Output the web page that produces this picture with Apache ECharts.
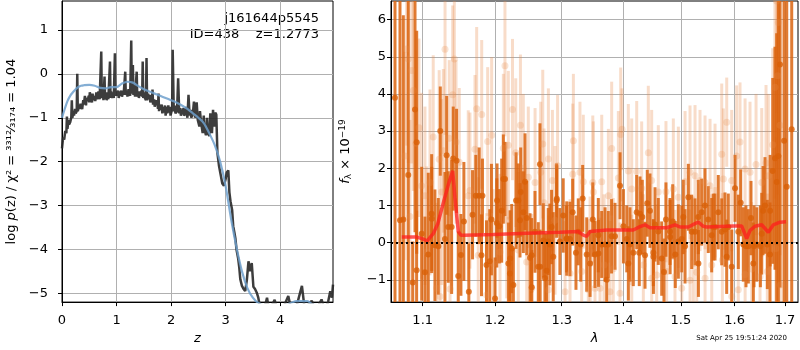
<!DOCTYPE html>
<html>
<head>
<meta charset="utf-8">
<script src="https://cdn.jsdelivr.net/npm/echarts@6/dist/echarts.min.js"></script>
<style>
html, body { margin: 0; padding: 0; background: #fff; }
#chart { width: 800px; height: 350px; }
</style>
</head>
<body>
<div id="chart"></div>
<script>
// left panel: log p(z)
var pzLine = [[0,-1.7],[0.02,-1.45],[0.04,-1.5],[0.06,-1.3],[0.08,-1.35],[0.09,-0.97],[0.1,-1.25],[0.12,-1.05],[0.13,-1.15],[0.15,-1.1],[0.17,-1.0],[0.18,-0.6],[0.19,-1.0],[0.21,-0.85],[0.22,-0.95],[0.24,-0.8],[0.25,-0.9],[0.27,-0.85],[0.28,0.0],[0.29,-0.85],[0.31,-0.72],[0.32,-0.8],[0.34,-0.68],[0.35,-0.75],[0.37,-0.8],[0.39,-0.6],[0.4,-0.7],[0.42,-0.5],[0.44,-0.72],[0.45,-0.55],[0.47,-0.62],[0.49,-0.5],[0.5,-0.65],[0.51,-0.42],[0.53,-0.58],[0.55,-0.65],[0.56,-0.45],[0.58,-0.6],[0.6,-0.5],[0.61,-0.62],[0.63,-0.42],[0.64,-0.58],[0.66,-0.62],[0.67,-0.4],[0.69,-0.58],[0.71,-0.6],[0.72,0.51],[0.73,-0.55],[0.75,-0.42],[0.76,-0.6],[0.78,-0.06],[0.79,-0.58],[0.81,-0.42],[0.82,-0.6],[0.84,-0.45],[0.85,-0.58],[0.87,-0.6],[0.88,0.28],[0.89,-0.55],[0.9,-0.4],[0.92,-0.55],[0.93,-0.42],[0.95,-0.55],[0.97,0.47],[0.98,-0.5],[1.0,-0.4],[1.01,-0.5],[1.03,-0.38],[1.04,-0.55],[1.06,-0.4],[1.07,-0.5],[1.09,-0.38],[1.1,-0.52],[1.12,-0.4],[1.13,-0.48],[1.15,-0.52],[1.16,0.05],[1.17,-0.48],[1.19,-0.38],[1.2,-0.52],[1.22,-0.35],[1.23,-0.45],[1.25,-0.5],[1.27,0.76],[1.28,-0.45],[1.3,0.2],[1.31,-0.48],[1.33,-0.38],[1.34,-0.52],[1.36,-0.48],[1.37,0.05],[1.38,-0.52],[1.4,-0.4],[1.41,-0.55],[1.43,-0.4],[1.44,-0.5],[1.46,-0.38],[1.47,-0.52],[1.48,0.28],[1.49,-0.55],[1.51,-0.42],[1.52,-0.55],[1.54,-0.6],[1.55,0.36],[1.56,-0.6],[1.58,-0.45],[1.59,-0.58],[1.61,-0.48],[1.62,-0.65],[1.64,-0.52],[1.65,-0.62],[1.66,-0.36],[1.67,-0.7],[1.69,-0.58],[1.7,-0.75],[1.72,-0.6],[1.73,-0.72],[1.75,-0.65],[1.76,-0.8],[1.77,-0.45],[1.78,-0.85],[1.8,-0.7],[1.81,-0.82],[1.83,-0.7],[1.84,-0.9],[1.86,-0.75],[1.87,-0.88],[1.89,-0.72],[1.9,-0.95],[1.92,-0.75],[1.93,-0.9],[1.95,-0.72],[1.96,-0.88],[1.98,-0.75],[1.99,-0.95],[2.02,-0.8],[2.03,0.55],[2.05,-0.85],[2.07,-0.72],[2.08,-0.9],[2.11,-0.85],[2.13,-0.1],[2.15,-0.9],[2.17,-0.78],[2.18,-0.95],[2.21,-0.85],[2.23,-0.78],[2.24,-0.95],[2.27,-0.9],[2.28,-0.75],[2.3,-1.0],[2.32,-0.48],[2.34,-0.95],[2.36,-0.82],[2.37,-1.0],[2.4,-0.9],[2.42,-0.63],[2.44,-1.0],[2.47,-0.65],[2.49,-1.05],[2.52,-1.2],[2.53,-0.85],[2.55,-1.1],[2.58,-1.35],[2.6,-0.95],[2.61,-1.25],[2.64,-1.4],[2.66,-1.0],[2.67,-1.3],[2.7,-1.42],[2.72,-0.9],[2.75,-1.35],[2.77,-0.82],[2.79,-1.2],[2.81,-0.88],[2.83,-0.93],[2.85,-1.8],[2.88,-2.1],[2.91,-2.3],[2.94,-2.5],[2.97,-2.55],[3.0,-2.4],[3.02,-2.25],[3.05,-2.2],[3.07,-2.7],[3.09,-2.9],[3.12,-3.1],[3.14,-3.47],[3.16,-3.6],[3.18,-3.75],[3.2,-4.0],[3.23,-4.2],[3.25,-4.4],[3.27,-4.68],[3.3,-4.83],[3.33,-4.9],[3.36,-4.95],[3.39,-4.7],[3.42,-4.27],[3.45,-4.5],[3.48,-4.31],[3.51,-4.85],[3.54,-4.9],[3.57,-4.98],[3.6,-5.1],[3.63,-5.3],[3.7,-5.4],[3.76,-5.1],[3.8,-5.4],[3.9,-5.15],[3.95,-5.4],[4.05,-5.35],[4.15,-5.06],[4.2,-5.35],[4.3,-5.3],[4.4,-4.83],[4.45,-5.35],[4.58,-5.17],[4.65,-5.4],[4.76,-5.14],[4.82,-5.4],[4.88,-5.2],[4.92,-4.95],[4.95,-5.1],[4.97,-4.8]];
var pzFit = [[0,-1.0],[0.05,-0.8],[0.1,-0.62],[0.15,-0.5],[0.2,-0.42],[0.25,-0.35],[0.3,-0.3],[0.35,-0.27],[0.4,-0.26],[0.5,-0.25],[0.6,-0.27],[0.7,-0.32],[0.8,-0.33],[0.9,-0.3],[1.0,-0.3],[1.1,-0.22],[1.2,-0.18],[1.3,-0.2],[1.4,-0.28],[1.5,-0.35],[1.6,-0.4],[1.7,-0.45],[1.8,-0.5],[1.9,-0.55],[2.0,-0.6],[2.1,-0.65],[2.2,-0.72],[2.3,-0.8],[2.4,-0.9],[2.5,-1.0],[2.6,-1.12],[2.7,-1.35],[2.8,-1.62],[2.9,-2.0],[3.0,-2.55],[3.1,-3.3],[3.2,-3.95],[3.3,-4.5],[3.4,-4.88],[3.5,-5.1],[3.6,-5.22],[3.8,-5.3],[4.0,-5.3],[4.2,-5.22],[4.3,-5.18],[4.5,-5.18],[4.6,-5.25],[4.97,-5.3]];
var zTicks = [0, 1, 2, 3, 4];
var logpTicks = [-5, -4, -3, -2, -1, 0, 1];

// right panel: spectrum, [lambda, flux, err]
var darkPts = [[1.064,3.9,6],[1.0704,0.6,6],[1.0747,0.62,5.5],[1.0811,1.82,5],[1.0869,-1.07,1.1],[1.0899,3.58,3.3],[1.0921,2.7,3],[1.092,-0.74,1.6],[1.0987,0.24,1.8],[1.103,-0.8,1.5],[1.1074,-0.32,2.2],[1.112,0.64,1.4],[1.1119,0.78,1.6],[1.1163,-0.07,1.5],[1.1208,-0.1,1.3],[1.1235,3.0,1.2],[1.1298,0.1,1.8],[1.1321,2.35,1.6],[1.1343,0.42,1.5],[1.1389,0.42,1.8],[1.1411,2.26,1.4],[1.1457,2.2,1.4],[1.148,-0.9,1.2],[1.1517,-0.33,1.1],[1.1558,0.57,1.6],[1.1627,-1.32,1.3],[1.1679,0.75,1.2],[1.1725,1.26,1.1],[1.1772,1.26,1.3],[1.1805,-0.34,1.1],[1.1819,1.26,1.0],[1.1876,-0.6,1.2],[1.1923,-0.5,1.4],[1.1947,0.62,1.5],
  [1.1999,-1.5,1.1],[1.2024,0.53,1.2],[1.2028,1.13,1.0],[1.2061,0.44,1.0],[1.2095,0.86,1.4],[1.2119,1.71,1.2],[1.2143,1.71,1.0],[1.2193,-0.56,1.1],[1.2216,-0.83,1.0],[1.2218,-0.43,1.3],[1.2242,-0.16,1.2],[1.2266,-1.14,1.0],[1.2306,1.13,1.3],[1.234,1.13,1.0],[1.2364,0.6,1.0],[1.2375,1.36,1.2],[1.2414,0.82,1.1],[1.2439,1.64,1.3],[1.2465,0.66,1.0],[1.2514,-0.41,1.2],[1.2539,-0.34,1.0],[1.254,-1.2,1.0],[1.2589,0.29,1.1],[1.2639,-0.65,1.2],[1.2664,2.11,1.1],[1.2667,-0.65,1.0],[1.2715,0.06,1.0],[1.274,-0.96,1.2],[1.2766,-0.76,1.0],[1.2791,0.03,0.9],[1.2816,-0.05,1.1],[1.2842,0.42,1.0],[1.2868,-0.38,1.2],[1.292,1.13,1.0],[1.2923,1.18,0.9],[1.2971,0.03,0.9],[1.3023,0.73,1.0],[1.3076,0.1,0.9],[1.3078,0.11,1.0],[1.3129,0.1,1.0],[1.3172,0.82,0.9],[1.3224,-0.27,1.0],[1.3261,0.29,0.9],[1.33,-0.05,1.0],[1.3331,1.19,0.9],[1.3396,-0.32,1.0],[1.345,-0.56,0.9],[1.3494,0.62,1.0],
  [1.353,-0.32,0.9],[1.3584,0.2,1.0],[1.3586,-0.29,0.9],[1.3639,-0.05,0.9],[1.3694,-0.05,1.0],[1.3722,-1.0,0.9],[1.3748,-0.05,0.9],[1.3802,0.17,1.0],[1.3859,0.17,0.9],[1.3943,1.53,0.9],[1.4,0.44,1.0],[1.4056,0.1,0.9],[1.4083,-0.56,1.0],[1.4111,-0.05,1.0],[1.4167,-0.27,0.9],[1.4225,0.82,1.0],[1.4269,-0.27,0.9],[1.4282,0.78,1.0],[1.4321,0.69,1.0],[1.4368,-0.34,0.9],[1.4407,1.06,0.9],[1.4454,0.86,1.0],[1.4512,-0.27,0.9],[1.4514,-0.38,1.0],[1.4542,0.49,1.0],[1.4599,0.3,0.9],[1.4659,-0.43,1.0],[1.4699,-0.79,0.9],[1.4734,0.62,1.0],[1.4806,0.3,0.9],[1.4808,0.15,1.0],[1.4854,0.57,1.0],[1.49,-0.32,0.9],[1.4955,0.03,1.0],[1.5016,0.1,0.9],[1.5044,0.69,1.0],[1.5076,-0.1,1.0],[1.5136,1.22,0.9],[1.5197,0.29,1.0],
  [1.5257,0.29,0.9],[1.5318,0.69,1.0],[1.532,-0.56,0.9],[1.538,0.82,0.9],[1.5441,1.0,1.0],[1.5502,0.62,0.9],[1.5566,0.2,1.0],[1.5596,0.42,0.9],[1.5628,0.42,0.9],[1.569,0.82,1.0],[1.5755,0.29,0.9],[1.5817,0.35,1.0],[1.5849,-0.38,1.0],[1.588,0.42,0.9],[1.5945,-0.65,1.0],[1.6009,1.46,0.9],[1.6072,0.29,1.0],[1.6118,1.07,0.9],[1.6169,-0.05,1.0],[1.6221,-0.1,1.1],[1.6267,-0.1,1.0],[1.6319,0.66,1.0],[1.6365,-0.56,1.1],[1.6378,-0.1,1.1],[1.6432,-0.05,1.0],[1.6504,-0.1,1.1],[1.6531,0.24,1.1],[1.6557,0.86,1.2],[1.6596,1.0,1.3],[1.6642,-0.05,1.2],[1.6696,-0.32,1.4],[1.6698,0.86,1.5],[1.6751,1.93,2.5],[1.6796,2.27,3],[1.683,1.63,4],[1.6864,2.33,5],[1.6898,4.79,6],[1.698,2.74,7],[1.7035,1.5,8],[1.7137,3.05,8]];
var lightPts = [[1.0768,2.33,2.8],[1.079,5.21,2.6],[1.0811,4.94,2.8],[1.0833,0.7,2.6],[1.0855,4.63,2.5],[1.0877,4.09,2.7],[1.0912,2.67,2.5],[1.0951,3.09,2.4],[1.0986,1.53,2.5],[1.103,1.26,2.4],[1.1053,-0.25,2.3],[1.1097,1.62,2.5],[1.114,2.84,2.2],[1.1186,-1.23,2.3],[1.122,2.24,2.4],[1.1231,-1.45,2.2],[1.1254,1.36,2.5],[1.1276,2.47,2.2],[1.1299,5.2,2.3],[1.1357,2.81,2.1],[1.1367,-1.25,2.2],[1.1404,3.98,2.4],[1.1426,4.94,2.3],[1.1449,2.71,2.2],[1.1494,2.16,2.0],[1.1619,1.26,2.3],[1.1643,1.4,2.1],[1.1713,2.51,2.0],[1.1737,3.6,2.2],[1.1759,-0.34,2.1],[1.1808,3.45,2.0],[1.1879,-1.41,2.2],[1.1893,2.72,2.0],[1.195,2.89,2.1],[1.1973,-0.56,2.0],
  [1.2071,-0.25,2.1],[1.2119,2.54,2.0],[1.2143,4.76,1.9],[1.2168,0.6,2.1],[1.2192,2.62,2.0],[1.2253,3.58,1.9],[1.2301,2.42,2.0],[1.2339,-0.2,2.1],[1.2371,3.16,1.9],[1.2413,2.0,2.0],[1.2464,-0.52,2.1],[1.2488,1.76,1.9],[1.254,-1.23,2.0],[1.259,1.62,2.0],[1.2676,1.89,1.9],[1.2707,2.65,2.0],[1.2727,1.07,2.0],[1.2793,2.25,1.9],[1.2795,-1.27,2.0],[1.2855,1.67,1.9],[1.2896,0.6,2.0],[1.2935,2.07,1.9],[1.3052,-1.32,1.9],[1.313,-0.83,2.0],[1.3173,1.84,1.9],[1.3183,2.74,1.8],[1.3288,1.89,1.9],[1.3315,-0.78,1.9],[1.3341,1.64,1.8],[1.3422,-1.27,1.9],[1.345,-0.56,1.8],[1.3494,1.62,1.8],
  [1.3503,1.36,1.9],[1.353,-1.23,1.8],[1.3612,-1.23,1.9],[1.364,1.64,1.8],[1.3678,-0.6,1.9],[1.3749,1.26,1.8],[1.3776,-1.32,1.9],[1.3804,2.53,1.8],[1.3831,-0.7,1.9],[1.3915,1.74,1.8],[1.3943,-1.36,1.9],[1.3954,2.91,1.8],[1.3977,3.05,1.1],[1.4083,1.93,1.8],[1.414,1.44,1.9],[1.4141,-1.05,1.8],[1.4225,1.91,1.9],[1.431,1.46,1.8],[1.4339,-0.6,1.9],[1.4425,2.42,1.8],[1.4483,1.67,1.9],[1.4484,-0.96,1.8],[1.4571,-0.87,1.9],[1.4599,1.36,1.8],[1.4734,1.37,1.9],[1.4746,-0.78,1.8],[1.4865,1.44,1.9],[1.4895,-0.92,1.8],[1.4955,1.22,1.9],[1.5016,-1.23,1.8],[1.5076,1.64,1.9],[1.5166,1.89,1.8],[1.5167,-1.01,1.9],
  [1.5227,-0.56,1.8],[1.5258,1.8,1.9],[1.5289,-0.8,1.8],[1.5349,1.67,1.9],[1.5442,1.62,1.8],[1.5443,-0.96,1.9],[1.5535,1.53,1.8],[1.5567,-0.6,1.9],[1.5629,1.4,1.8],[1.5755,2.38,1.9],[1.5767,-0.47,1.8],[1.5786,1.71,1.9],[1.585,3.24,1.2],[1.5945,1.67,1.9],[1.5946,-1.45,1.8],[1.604,2.33,1.9],[1.6072,-1.27,1.8],[1.6105,2.71,1.6],[1.6203,1.98,1.9],[1.6204,-0.86,1.8],[1.63,1.89,1.9],[1.6333,-0.71,1.8],[1.6418,2.1,1.9],[1.6497,-0.92,1.9],[1.6531,1.62,2.0],[1.6616,2.14,2.1],[1.6642,-0.78,2.1],[1.6662,1.8,2.2],[1.6751,2.63,2.6],[1.6796,4.18,3],[1.6814,-0.16,3],[1.683,6.5,3],[1.685,4.49,3.2],[1.6862,5.92,3.5],[1.6898,3.16,3.5],[1.6904,-1.14,3.5]];
var modelLine = [[1.0727,0.15],[1.092,0.15],[1.1,0.1],[1.106,0.05],[1.114,0.24],[1.12,0.5],[1.128,1.1],[1.135,1.6],[1.1404,1.93],[1.1435,1.2],[1.148,0.3],[1.1518,0.2],[1.156,0.2],[1.1973,0.22],[1.2464,0.25],[1.2973,0.28],[1.3261,0.3],[1.3341,0.2],[1.3396,0.17],[1.345,0.3],[1.3722,0.34],[1.4167,0.34],[1.4282,0.43],[1.4368,0.48],[1.4454,0.4],[1.4746,0.4],[1.4895,0.48],[1.4985,0.42],[1.5136,0.42],[1.5257,0.51],[1.5318,0.55],[1.5411,0.44],[1.5473,0.42],[1.5977,0.45],[1.6137,0.45],[1.6235,0.11],[1.63,0.33],[1.6398,0.44],[1.653,0.48],[1.6662,0.28],[1.6763,0.48],[1.6898,0.55],[1.7021,0.56]];
var lamTicks = [1.1, 1.2, 1.3, 1.4, 1.5, 1.6, 1.7];
var fluxTicks = [-1, 0, 1, 2, 3, 4, 5, 6];

var FONT = 'DejaVu Sans';
var chart = echarts.init(document.getElementById('chart'));

// wavelength axis is logarithmic: feed ln(lambda) to a value axis
function toLn(p) { return [Math.log(p[0])].concat(p.slice(1)); }
function lnTicks(t) { return t.map(Math.log); }
function minus(v) { return String(v).replace('-', '\u2212'); }

function errBars(color, width) {
  return function (params, api) {
    var lo = api.coord([api.value(0), api.value(1) - api.value(2)]);
    var hi = api.coord([api.value(0), api.value(1) + api.value(2)]);
    return {
      type: 'line',
      shape: { x1: lo[0], y1: lo[1], x2: hi[0], y2: hi[1] },
      style: { stroke: color, lineWidth: width }
    };
  };
}

function axis(gridIndex, min, max, ticks, fmt, margin) {
  return {
    type: 'value', gridIndex: gridIndex, min: min, max: max,
    axisLine: { show: true, onZero: false, lineStyle: { color: '#000', width: 1 } },
    axisTick: { show: true, length: 4, customValues: ticks, lineStyle: { color: '#000' } },
    axisLabel: { customValues: ticks, formatter: fmt, color: '#000', fontSize: 13, fontFamily: FONT, margin: margin },
    splitLine: { show: true, lineStyle: { color: '#b0b0b0', width: 1 } },
    nameTextStyle: { color: '#000', fontSize: 13, fontFamily: FONT }
  };
}

var xz = axis(0, 0, 4.97, zTicks, minus, 12);
xz.name = 'z'; xz.nameLocation = 'middle'; xz.nameGap = 29;
xz.nameTextStyle.fontStyle = 'italic';
var ylogp = axis(0, -5.2, 1.66, logpTicks, minus, 14);
ylogp.name = 'log {i|p}(z) / χ² = ³³¹²⁄₃₁₇₄ = 1.04';
ylogp.nameLocation = 'middle'; ylogp.nameGap = 44;
ylogp.nameTextStyle.rich = { i: { fontStyle: 'italic', fontSize: 13, fontFamily: FONT } };

var xlam = axis(1, Math.log(1.0589), Math.log(1.7267), lnTicks(lamTicks),
  function (v) { return Math.exp(v).toFixed(1); }, 12);
xlam.name = 'λ'; xlam.nameLocation = 'middle'; xlam.nameGap = 29;
xlam.nameTextStyle.fontStyle = 'italic';
var yflux = axis(1, -1.6, 6.5, fluxTicks, minus, 5);
yflux.name = '{i|f}{s|λ} × 10{u|−19}';
yflux.nameLocation = 'middle'; yflux.nameGap = 38;
yflux.nameTextStyle.rich = {
  i: { fontStyle: 'italic', fontSize: 13, fontFamily: FONT },
  s: { fontSize: 9, fontFamily: FONT, padding: [6, 0, 0, 0] },
  u: { fontSize: 9, fontFamily: FONT, padding: [0, 0, 6, 0] }
};

chart.setOption({
  animation: false,
  textStyle: { fontFamily: FONT },
  grid: [
    { left: 62, top: 1, width: 271, height: 302, show: true, borderColor: '#000', borderWidth: 1 },
    { left: 391, top: 1, width: 407, height: 302, show: true, borderColor: '#000', borderWidth: 1 }
  ],
  xAxis: [xz, xlam],
  yAxis: [ylogp, yflux],
  graphic: [
    { type: 'text', x: 319, y: 12, style: { text: 'j161644p5545', textAlign: 'right', fontSize: 13, fontFamily: FONT, fill: '#000' } },
    { type: 'text', x: 319, y: 28, style: { text: 'ID=438    z=1.2773', textAlign: 'right', fontSize: 13, fontFamily: FONT, fill: '#000' } },
    { type: 'text', x: 787, y: 335, style: { text: 'Sat Apr 25 19:51:24 2020', textAlign: 'right', fontSize: 7, fontFamily: FONT, fill: '#000' } }
  ],
  series: [
    {
      type: 'line', xAxisIndex: 0, yAxisIndex: 0, data: pzLine, showSymbol: false,
      lineStyle: { color: 'rgba(40,40,40,0.9)', width: 2.5 }
    },
    {
      type: 'line', xAxisIndex: 0, yAxisIndex: 0, data: pzFit, showSymbol: false, smooth: 0.3,
      lineStyle: { color: 'rgba(110,160,205,0.85)', width: 2.2 }
    },
    {
      type: 'custom', xAxisIndex: 1, yAxisIndex: 1, clip: true,
      data: lightPts.map(toLn), encode: { x: 0, y: 1 },
      renderItem: errBars('rgba(232,140,75,0.3)', 3)
    },
    {
      type: 'scatter', xAxisIndex: 1, yAxisIndex: 1,
      data: lightPts.map(toLn), symbolSize: 7,
      itemStyle: { color: 'rgba(232,140,75,0.3)' }
    },
    {
      type: 'custom', xAxisIndex: 1, yAxisIndex: 1, clip: true,
      data: darkPts.map(toLn), encode: { x: 0, y: 1 },
      renderItem: errBars('rgba(218,100,15,0.85)', 3)
    },
    {
      type: 'scatter', xAxisIndex: 1, yAxisIndex: 1,
      data: darkPts.map(toLn), symbolSize: 6,
      itemStyle: { color: '#d96008' }
    },
    {
      type: 'line', xAxisIndex: 1, yAxisIndex: 1, data: modelLine.map(toLn), showSymbol: false,
      lineStyle: { color: 'rgba(255,30,30,0.75)', width: 3.5 },
      markLine: {
        silent: true, symbol: ['none', 'none'], label: { show: false },
        lineStyle: { color: '#000', type: [2, 3], width: 2 },
        data: [{ yAxis: 0 }]
      }
    }
  ]
});
</script>
</body>
</html>
